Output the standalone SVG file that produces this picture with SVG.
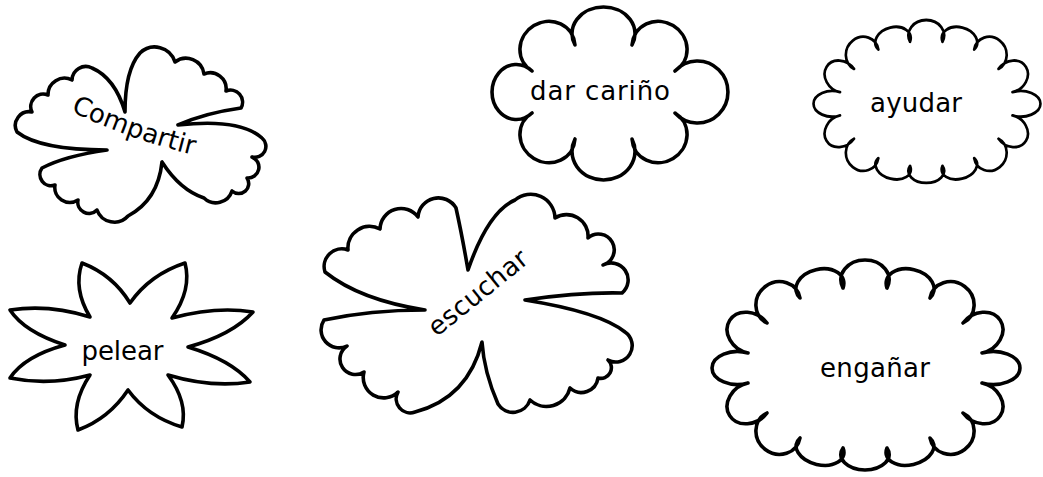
<svg xmlns="http://www.w3.org/2000/svg" xmlns:xlink="http://www.w3.org/1999/xlink" width="1043" height="477" viewBox="0 0 1043 477">
<style>
.shape{fill:#fff;stroke:#000;stroke-width:3.6;stroke-linejoin:round}
.label{font-family:"DejaVu Sans","Liberation Sans",sans-serif;font-size:26px;fill:#000}
</style>
<defs>
<path id="compartirBase" d="M66,109 Q130,140 198,156"/>
<path id="cloudBig" d="M800,298 A24.3,16.9 -13 1 1 843,288 A24.2,19.8 0 1 1 887,288 A24.3,16.9 13 1 1 930,298 A22.8,21.2 37 1 1 963,323 A19.5,23.3 57.7 1 1 982,353 A16.5,26.8 90 1 1 982,383 A19.5,23.3 122.3 1 1 963,413 A22.8,21.2 142.9 1 1 930,438 A24.3,15.5 -13.1 1 1 887,448 A24.2,15.5 0 1 1 843,448 A24.3,15.5 13.1 1 1 800,438 A22.8,21.2 37.1 1 1 767,413 A19.5,23.3 57.7 1 1 748,383 A16.5,25.4 90 1 1 748,353 A19.5,23.3 122.3 1 1 767,323 A22.8,21.2 142.9 1 1 800,298 Z"/>
</defs>
<rect width="1043" height="477" fill="#fff"/>

<g id="compartir">
<path class="shape" d="M125,112 Q125,70 140,53 A21.2,21.2 0 0 1 175,62 A18.2,18.2 0 0 1 204,74 A16,16 0 0 1 226,91 A12,12 0 0 1 241,108 Q205,113 178,125 Q240,118 262,138 A11,11 0 0 1 252,157 A10.9,10.9 0 0 1 247,178 A10,10 0 0 1 232,191 A17,17 0 0 1 204,198 Q180,190 162,162 Q158,200 128,216 A18.4,18.4 0 0 1 97,210 A11.2,11.2 0 0 1 78,200 A15,15 0 0 1 55,185 A11.2,11.2 0 0 1 42,168 Q65,156 107,150 Q40,150 17,132 A13.8,13.8 0 0 1 32,112 A12.5,12.5 0 0 1 48,95 A16.5,16.5 0 0 1 72,80 A13.8,13.8 0 0 1 92,68 Q115,78 125,112 Z"/>
<text class="label"><textPath href="#compartirBase" xlink:href="#compartirBase" startOffset="50%" text-anchor="middle">Compartir</textPath></text>
</g>

<g id="pelear">
<path class="shape" d="M90,317 Q73,289 82,263 Q113,275 130,303 Q150,274.5 185,263 Q192,289.5 172,318 Q216,306 253,312 Q232,335 188,347 Q231,360 250,382 Q211,388 168,375 Q188,402 182,427 Q148,417 128,390 Q109,418.5 78,430 Q71,403.5 90,375 Q49.5,386 10,378 Q24.5,356 65,345 Q24.5,332 10,310 Q49.5,304 90,317 Z"/>
<text class="label" x="122.5" y="360" text-anchor="middle" textLength="82" lengthAdjust="spacing">pelear</text>
</g>

<g id="escuchar">
<path class="shape" d="M468,270 Q488,212 515,200 A24.3,24.3 0 0 1 555,218 A21.5,21.5 0 0 1 588,238 A15.8,15.8 0 1 1 603,265 A17,17 0 0 1 622,293 Q580,292 525,300 Q600,312 625,332 A16.4,16.4 0 0 1 608,360 A10.6,10.6 0 0 1 598,378 A16.8,16.8 0 0 1 570,388 A24.2,24.2 0 0 1 530,400 A17.8,17.8 0 0 1 498,404 Q484,372 482,342 Q468,398 415,412 A14,14 0 0 1 398,392 A20.4,20.4 0 0 1 364,372 A15.5,15.5 0 0 1 347,346 A18,18 0 0 1 324,320 Q370,310 425,310 Q360,300 325,272 A17.7,17.7 0 0 1 348,250 A21.7,21.7 0 0 1 380,229 A21.1,21.1 0 0 1 418,217 A20.4,20.4 0 0 1 456,208 Q462,235 468,270 Z"/>
<text class="label" transform="translate(483.5,299.5) rotate(-39)" x="0" y="0" text-anchor="middle" textLength="120" lengthAdjust="spacing">escuchar</text>
</g>

<g id="dar-carino">
<path class="shape" d="M575,45 A31.5,26.7 0 1 1 632,45 A28,26.3 31.2 1 1 675,71 A31,30.5 90 1 1 675,113 A28,26.3 148.8 1 1 632,139 A31.5,28.8 0 1 1 575,139 A28,26.3 31.2 1 1 532,113 A27.5,24.3 90 1 1 532,71 A28,26.3 148.8 1 1 575,45 Z"/>
<text class="label" x="600" y="100" text-anchor="middle" textLength="140" lengthAdjust="spacing">dar cariño</text>
</g>

<g id="ayudar">
<use href="#cloudBig" xlink:href="#cloudBig" class="shape" style="vector-effect:non-scaling-stroke" transform="translate(927,101.5) scale(0.737,0.776) translate(-866,-365)"/>
<text class="label" x="916" y="112" text-anchor="middle" textLength="92" lengthAdjust="spacing">ayudar</text>
</g>

<g id="enganar">
<use href="#cloudBig" xlink:href="#cloudBig" class="shape"/>
<text class="label" x="875" y="377" text-anchor="middle" textLength="110" lengthAdjust="spacing">engañar</text>
</g>
</svg>
